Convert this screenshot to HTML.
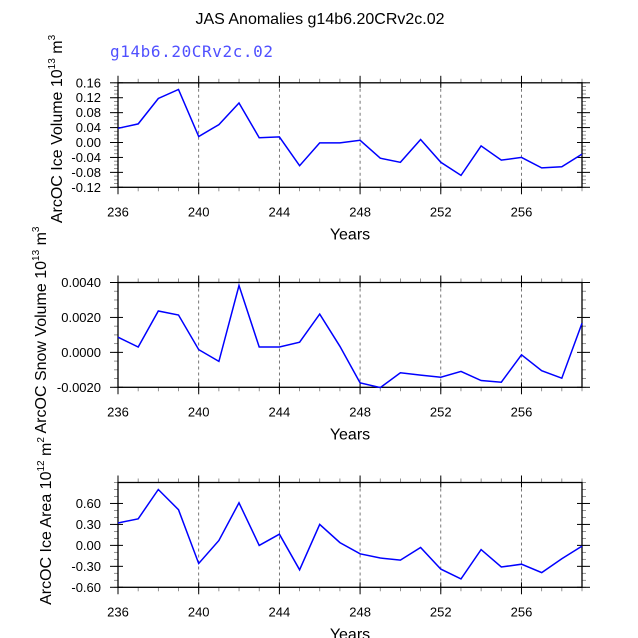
<!DOCTYPE html>
<html><head><meta charset="utf-8"><style>
body{margin:0;background:#fff}
svg{display:block;font-family:"Liberation Sans",sans-serif}
</style></head><body>
<svg id="c" width="638" height="638" viewBox="0 0 638 638">
<text x="320" y="24" text-anchor="middle" font-size="16">JAS Anomalies g14b6.20CRv2c.02</text>
<text x="110" y="57" font-size="16" fill="#5050ff" textLength="163" font-family="'DejaVu Sans Mono','Liberation Mono',monospace">g14b6.20CRv2c.02</text>
</svg>
<script>
const years=[236,237,238,239,240,241,242,243,244,245,246,247,248,249,250,251,252,253,254,255,256,257,258,259];
const iceVolume=[0.038,0.050,0.118,0.142,0.016,0.048,0.106,0.013,0.015,-0.062,-0.001,-0.001,0.006,-0.042,-0.053,0.008,-0.053,-0.088,-0.009,-0.047,-0.040,-0.068,-0.065,-0.031];
const snowVolume=[0.00087,0.00031,0.00237,0.00214,0.00016,-0.00052,0.00383,0.00031,0.00031,0.00058,0.00219,0.00035,-0.00175,-0.00202,-0.00117,-0.0013,-0.00142,-0.00109,-0.00161,-0.00171,-0.00014,-0.00105,-0.00148,0.00167];
const iceArea=[0.32,0.38,0.80,0.51,-0.26,0.07,0.61,0.0,0.16,-0.35,0.30,0.04,-0.12,-0.18,-0.21,-0.03,-0.34,-0.48,-0.06,-0.31,-0.27,-0.39,-0.19,-0.01];
const xTicks=[236,240,244,248,252,256];
const yTicks1=[0.16,0.12,0.08,0.04,0.00,-0.04,-0.08,-0.12];
const yTicks2=[0.004,0.002,0.0,-0.002];
const yTicks3=[0.6,0.3,0.0,-0.3,-0.6];

const svg=document.getElementById('c');
const NS='http://www.w3.org/2000/svg';
function mk(t,a,p){const e=document.createElementNS(NS,t);for(const k in a)e.setAttribute(k,a[k]);(p||svg).appendChild(e);return e;}
const X0=118,X1=582,xmin=236,xmax=259;
const xs=v=>X0+(v-xmin)/(xmax-xmin)*(X1-X0);

function panel(id,top,bot,ymin,ymax,data,ticks,minorStep,fmt,ytitle,unitExp,unitPow,tx0,ty0){
  const g=mk('g',{});
  
  
  const ys=v=>bot-(v-ymin)/(ymax-ymin)*(bot-top);
  for(const t of xTicks){ if(t===236) continue;
    const l=mk('line',{x1:xs(t),x2:xs(t),y1:top,y2:bot,stroke:'#555','stroke-width':0.8,'stroke-dasharray':'3,3'},g);
    
    
  }
  for(let yv=xmin;yv<=xmax;yv++){
    mk('line',{x1:xs(yv),x2:xs(yv),y1:bot,y2:bot+4,stroke:'#777','stroke-width':0.8},g);
    mk('line',{x1:xs(yv),x2:xs(yv),y1:top,y2:top-4,stroke:'#777','stroke-width':0.8},g);
  }
  for(const t of xTicks){
    mk('line',{x1:xs(t),x2:xs(t),y1:bot-5,y2:bot+7,stroke:'#000','stroke-width':1},g);
    mk('line',{x1:xs(t),x2:xs(t),y1:top+5,y2:top-7,stroke:'#000','stroke-width':1},g);
    const tx=mk('text',{x:xs(t),y:bot+29,'text-anchor':'middle','font-size':13},g);
    tx.textContent=t;
    
    
  }
  for(let v=ymin;v<=ymax+1e-9;v+=minorStep){
    const y=ys(v);
    mk('line',{x1:X0,x2:X0-4,y1:y,y2:y,stroke:'#777','stroke-width':0.8},g);
    mk('line',{x1:X1,x2:X1+4,y1:y,y2:y,stroke:'#777','stroke-width':0.8},g);
  }
  for(const t of ticks){
    const y=ys(t);
    mk('line',{x1:X0-8,x2:X0+5,y1:y,y2:y,stroke:'#000','stroke-width':1},g);
    mk('line',{x1:X1+8,x2:X1-5,y1:y,y2:y,stroke:'#000','stroke-width':1},g);
    const tx=mk('text',{x:X0-17,y:y+4.5,'text-anchor':'end','font-size':13},g);
    tx.textContent=fmt(t);
    
    
  }
  const fr=mk('rect',{x:X0,y:top,width:X1-X0,height:bot-top,fill:'none',stroke:'#000','stroke-width':1.3},g);
  
  
  const pts=data.map((v,i)=>xs(years[i]).toFixed(1)+','+ys(v).toFixed(1)).join(' ');
  const pl=mk('polyline',{points:pts,fill:'none',stroke:'#0000ff','stroke-width':1.5},g);
  
  
  const xt=mk('text',{x:(X0+X1)/2,y:bot+52,'text-anchor':'middle','font-size':16},g);
  xt.textContent='Years';
  
  
  const yt=mk('text',{x:0,y:0,'text-anchor':'middle','font-size':16,transform:`translate(${tx0},${ty0}) rotate(-90)`},g);
  yt.innerHTML=ytitle+' 10<tspan dy="-7" font-size="10">'+unitExp+'</tspan><tspan dy="7"> m</tspan><tspan dy="-7" font-size="10">'+unitPow+'</tspan>';
  
  
}
panel('ice-volume',82.8,187.3,-0.12,0.16,iceVolume,yTicks1,0.01,v=>v.toFixed(2),'ArcOC Ice Volume','13','3',62,129);
panel('snow-volume',282.5,387.3,-0.002,0.004,snowVolume,yTicks2,0.0005,v=>v.toFixed(4),'ArcOC Snow Volume','13','3',46,330);
panel('ice-area',482.5,587.3,-0.6,0.9,iceArea,yTicks3,0.1,v=>v.toFixed(2),'ArcOC Ice Area','12','2',51,521);
</script>
</body></html>
